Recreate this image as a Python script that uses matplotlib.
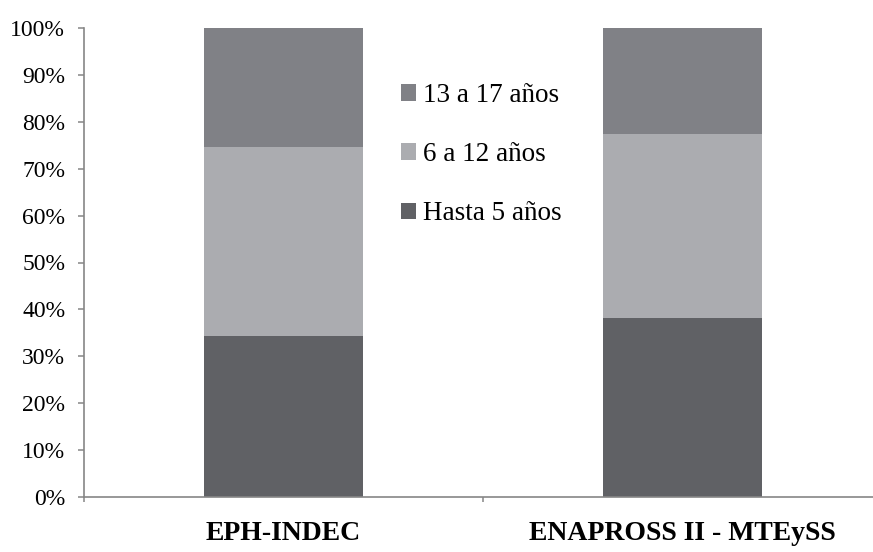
import matplotlib
matplotlib.use("Agg")
import matplotlib.pyplot as plt
from matplotlib.ticker import FixedLocator, PercentFormatter
import numpy as np

categories = ["EPH-INDEC", "ENAPROSS II - MTEySS"]
series_names = ["Hasta 5 años", "6 a 12 años", "13 a 17 años"]
hasta5 = [34.3, 38.2]
de6a12 = [40.3, 39.2]
de13a17 = [25.4, 22.6]
y_ticks = [0, 10, 20, 30, 40, 50, 60, 70, 80, 90, 100]

colors = ["#606165", "#abacb0", "#808186"]
axis_color = "#868686"

plt.rcParams["font.family"] = ["Liberation Serif", "DejaVu Serif"]

fig = plt.figure(figsize=(8.73, 5.52), dpi=100)
ax = fig.add_axes([84 / 873, 55 / 552, 798 / 873, 469 / 552])

x = np.arange(len(categories))
bottom = np.zeros(len(categories))
handles = []
for vals, name, c in zip([hasta5, de6a12, de13a17], series_names, colors):
    b = ax.bar(x, vals, width=0.4, bottom=bottom, color=c, label=name,
               edgecolor="none", linewidth=0)
    handles.append(b)
    bottom += np.array(vals)

ax.set_xlim(-0.5, 1.5)
ax.set_ylim(0, 100)

for s in ["top", "right"]:
    ax.spines[s].set_visible(False)
for s in ["left", "bottom"]:
    ax.spines[s].set_color(axis_color)
    ax.spines[s].set_linewidth(1.2)

ax.set_yticks(y_ticks)
ax.yaxis.set_major_formatter(PercentFormatter(decimals=0))
ax.tick_params(axis="y", direction="out", length=4.5, width=1.1, color=axis_color,
               labelsize=17, pad=9, labelcolor="black")

ax.set_xticks(x)
ax.set_xticklabels(categories, fontweight="bold", fontsize=20)
ax.tick_params(axis="x", which="major", length=0, pad=17, labelcolor="black")
ax.xaxis.set_minor_locator(FixedLocator([-0.5, 0.5, 1.5]))
ax.tick_params(axis="x", which="minor", direction="out", length=3.5, width=1.1,
               color=axis_color)

leg = ax.legend(handles[::-1], series_names[::-1], loc="upper left",
                bbox_to_anchor=(401 / 873, 1 - 83 / 552), bbox_transform=fig.transFigure,
                frameon=False, fontsize=19.5, handlelength=0.55, handleheight=0.55,
                handletextpad=0.28, labelspacing=1.26, borderpad=0, borderaxespad=0)

fig.savefig("out.png", dpi=100)
